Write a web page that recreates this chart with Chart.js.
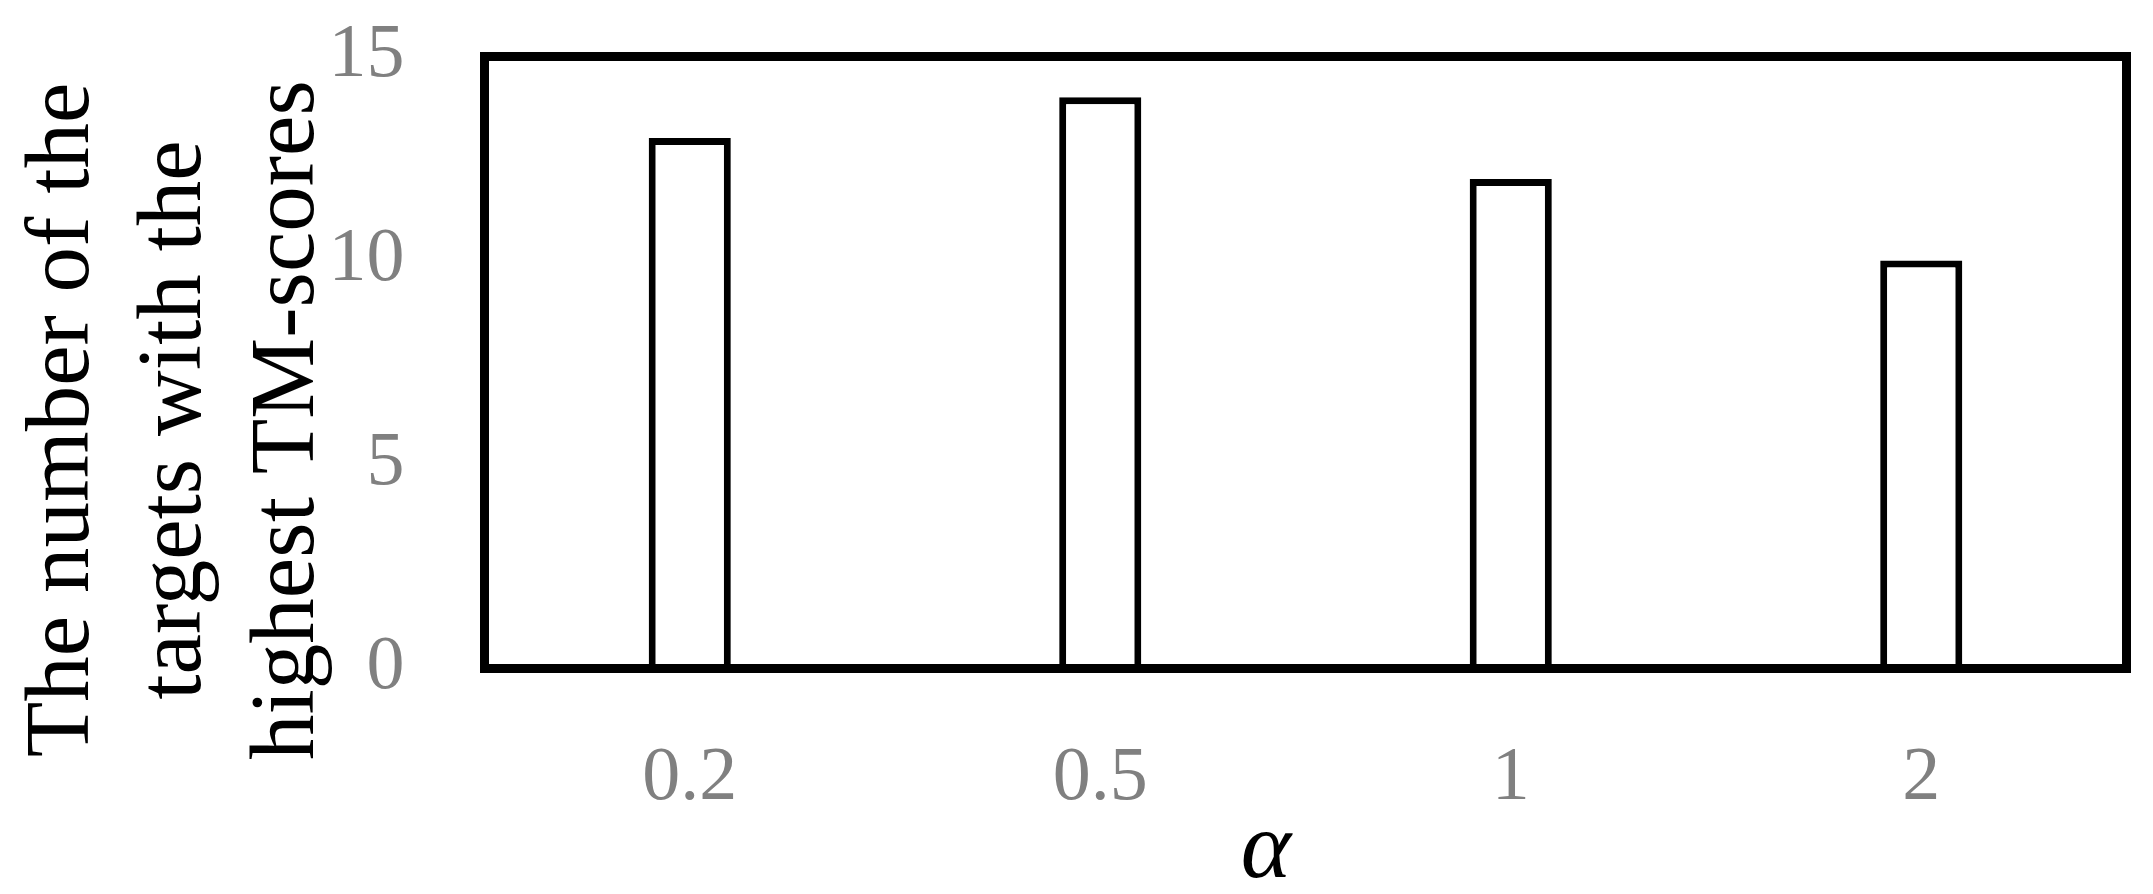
<!DOCTYPE html>
<html>
<head>
<meta charset="utf-8">
<script src="https://cdn.jsdelivr.net/npm/chart.js@4/dist/chart.umd.min.js"></script>
<style>
  body { margin: 0; background: #fff; }
  #wrap { width: 2153px; height: 894px; }
</style>
</head>
<body>
<div id="wrap"><canvas id="chart"></canvas></div>
<script>
  // data
  const alphas = ['0.2', '0.5', '1', '2'];
  const targetCounts = [13, 14, 12, 10];
  const yTitleLines = ['The number of the', 'targets with the', 'highest TM-scores'];
  const xTitle = '\u03B1';

  const serif = "'Liberation Serif', 'DejaVu Serif', serif";

  // black frame around the plot + the axis titles
  const framePlugin = {
    id: 'frame',
    afterDatasetsDraw(chart) {
      const ctx = chart.ctx, a = chart.chartArea;
      ctx.save();
      ctx.strokeStyle = '#000';
      ctx.lineWidth = 9;
      ctx.lineJoin = 'miter';
      ctx.strokeRect(a.left, a.top, a.right - a.left, a.bottom - a.top);
      ctx.restore();
    },
    afterDraw(chart) {
      const ctx = chart.ctx;
      ctx.save();
      ctx.fillStyle = '#000';
      ctx.font = `91px ${serif}`;
      ctx.textAlign = 'center';
      ctx.textBaseline = 'alphabetic';
      const baseX = [88, 200, 313]; //baseline of each rotated line
      yTitleLines.forEach((line, i) => {
        ctx.save();
        ctx.translate(baseX[i], 420);
        ctx.rotate(-Math.PI / 2);
        ctx.fillText(line, 0, 0);
        ctx.restore();
      });
      ctx.font = `italic 96px ${serif}`;
      ctx.fillText(xTitle, 1266, 877);
      ctx.restore();
    }
  };

  // no extra room for half-labels, the layout padding takes care of it
  function noPad(scale) {
    scale.paddingTop = 0;
    scale.paddingBottom = 0;
    scale.paddingLeft = 0;
    scale.paddingRight = 0;
  }

  new Chart(document.getElementById('chart'), {
    type: 'bar',
    data: {
      labels: alphas,
      datasets: [{
        data: targetCounts,
        backgroundColor: '#fff',
        borderColor: '#000',
        borderWidth: 7,
        borderSkipped: 'start',
        barPercentage: 0.2,
        categoryPercentage: 1.0
      }]
    },
    options: {
      responsive: true,
      maintainAspectRatio: false,
      animation: false,
      layout: { padding: { left: 0, top: 56.5, right: 26.5, bottom: 0 } },
      plugins: {
        legend: { display: false },
        tooltip: { enabled: false }
      },
      scales: {
        x: {
          grid: { display: false, drawTicks: false },
          border: { display: false },
          ticks: { color: '#808080', font: { family: serif, size: 76 }, padding: 65 },
          afterFit: (scale) => { noPad(scale); scale.height = 894 - 668.5; }
        },
        y: {
          min: 0,
          max: 15,
          grid: { display: false, drawTicks: false },
          border: { display: false },
          ticks: { stepSize: 5, color: '#808080', font: { family: serif, size: 76 }, padding: 80 },
          afterFit: (scale) => { noPad(scale); scale.width = 484.5; }
        }
      }
    },
    plugins: [framePlugin]
  });
</script>
</body>
</html>
